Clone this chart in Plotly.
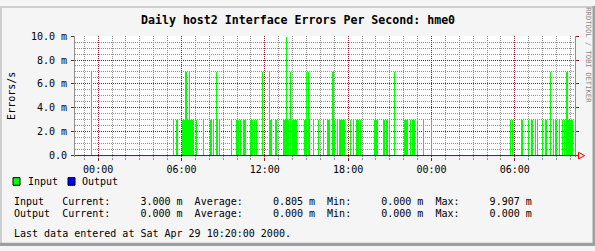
import plotly.graph_objects as go
import pandas as pd

# ---------------- data ----------------
title_text = "Daily host2 Interface Errors Per Second: hme0"
y_title = "Errors/s"
side_text = "RRDTOOL / TOBI OETIKER"

start_time = "2000-04-27 22:20:00"
end_time = "2000-04-29 10:20:00"
tick_start = "2000-04-28 00:00:00"

# minutes after start_time of every non-zero Input sample
input_minutes = [
    71.3,
    425.5, 438.5, 442.8, 464.4, 468.7, 473.0, 477.4, 481.7, 486.0, 490.3, 494.6,
    499.0, 503.3, 507.6, 511.9, 524.9, 555.1, 585.4, 589.7, 598.3, 611.3, 615.6, 624.2,
    676.1, 697.7, 702.0, 706.3, 715.0, 727.9, 732.2, 736.6, 758.2, 762.5, 766.8, 775.4, 784.1, 810.0,
    840.2, 844.6, 848.9, 866.2, 870.5, 900.7, 905.0, 909.4, 913.7, 918.0, 922.3, 931.0,
    939.6, 943.9, 948.2, 952.6, 956.9, 991.4, 995.8, 1000.1, 1008.7, 1013.0, 1030.3, 1051.9, 1073.5,
    1090.8, 1095.1, 1099.4, 1112.4, 1116.7, 1121.0, 1134.0, 1142.6, 1147.0, 1151.3, 1155.6, 1159.9, 1164.2,
    1190.2, 1203.1, 1216.1, 1220.4, 1224.7, 1233.4,
    1293.8, 1298.2, 1302.5, 1306.8, 1332.7, 1337.0, 1345.7, 1350.0, 1358.6, 1380.2,
    1423.4, 1427.8, 1432.1, 1436.4, 1449.4, 1458.0, 1462.3, 1466.6, 1479.6, 1505.5, 1540.1,
    1881.4, 1890.0, 1928.9, 1933.2, 1959.1, 1972.1, 1976.4, 1989.4, 1998.0, 2019.6,
    2032.6, 2036.9, 2054.2, 2067.1, 2075.8, 2080.1, 2093.0, 2106.0, 2114.6,
    2123.3, 2127.6, 2131.9, 2136.2, 2140.6, 2144.9, 2149.2,
]
# Input errors/s in milli units
input_values_m = [
    7,
    3, 3, 3, 3, 3, 3, 7, 7, 3, 3, 7,
    3, 3, 3, 3, 3, 3, 3, 3, 3, 7, 3, 3,
    3, 3, 3, 3, 3, 3, 3, 3, 3, 3, 3, 3, 3, 7,
    7, 3, 3, 3, 3, 3, 3, 3, 9.907, 3, 3, 7,
    3, 3, 3, 3, 3, 3, 3, 7, 7, 3, 3, 3, 3,
    3, 3, 3, 7, 7, 3, 3, 3, 3, 3, 3, 3, 3,
    3, 3, 3, 3, 3, 3,
    3, 3, 3, 3, 3, 3, 3, 3, 3, 7,
    3, 3, 3, 3, 3, 3, 3, 3, 3, 3, 3,
    3, 3, 3, 3, 3, 3, 3, 3, 3, 3,
    3, 3, 7, 3, 3, 3, 3, 3, 3,
    7, 7, 3, 3, 3, 3, 3,
]
assert len(input_minutes) == len(input_values_m)

output_minutes = [0, 2160]
output_values_m = [0.0, 0.0]

y_tick_values = [0, 2, 4, 6, 8, 10]
y_tick_labels = ["0.0", "2.0 m", "4.0 m", "6.0 m", "8.0 m", "10.0 m"]

series_names = ["Input", "Output"]
series_colors = ["#00FF00", "#0000FF"]
stat_current = [3.000, 0.000]
stat_average = [0.805, 0.000]
stat_min = [0.000, 0.000]
stat_max = [9.907, 0.000]
last_update = "Sat Apr 29 10:20:00 2000"

# ---------------- helpers ----------------
W, H = 595, 251
def px(x):
    return x / W
def py(y):
    return 1 - y / H

MONO = "DejaVu Sans Mono"
GRID = "#8F8F8F"
MGRID = "#821E1E"
NB = "\u00a0"

t0 = pd.Timestamp(start_time)
in_x = [t0 + pd.Timedelta(minutes=m) for m in input_minutes]
out_x = [t0 + pd.Timedelta(minutes=m) for m in output_minutes]

fig = go.Figure()
fig.add_trace(go.Bar(
    x=in_x, y=input_values_m, width=129600,
    marker=dict(color=series_colors[0], line=dict(width=0)),
    name=series_names[0], hoverinfo="skip",
))
fig.add_trace(go.Scatter(
    x=out_x, y=output_values_m, mode="lines",
    line=dict(color=series_colors[1], width=1),
    name=series_names[1], hoverinfo="skip",
))

fig.update_layout(
    width=W, height=H,
    margin=dict(l=0, r=0, t=0, b=0),
    paper_bgcolor="#F5F5F5", plot_bgcolor="#FFFFFF",
    bargap=0, showlegend=False,
    font=dict(family=MONO, size=10, color="#000000"),
    xaxis=dict(
        type="date", domain=[px(75), px(575)], range=[start_time, end_time],
        tickmode="linear", tick0=tick_start, dtick=6 * 3600 * 1000, tickformat="%H:%M",
        showgrid=True, gridcolor=MGRID, gridwidth=1, griddash="1px,1px",
        ticks="outside", ticklen=3, tickcolor=MGRID, tickwidth=1,
        showline=False, zeroline=False, fixedrange=True,
        tickfont=dict(family=MONO, size=10, color="#000000"),
        minor=dict(tickmode="linear", tick0=tick_start, dtick=3600 * 1000,
                   showgrid=True, gridcolor=GRID, gridwidth=1, griddash="1px,1px",
                   ticks="outside", ticklen=2, tickcolor=GRID),
    ),
    yaxis=dict(
        domain=[py(157.5), py(31.5)], range=[-0.08, 10.0],
        tickmode="array", tickvals=y_tick_values, ticktext=y_tick_labels,
        showgrid=True, gridcolor=MGRID, gridwidth=1, griddash="1px,1px",
        ticks="outside", ticklen=3, tickcolor=MGRID, tickwidth=1,
        ticklabelstandoff=2,
        showline=True, linecolor=GRID, linewidth=1, mirror="ticks",
        zeroline=False, fixedrange=True,
        tickfont=dict(family=MONO, size=10, color="#000000"),
        minor=dict(tickmode="linear", tick0=0, dtick=0.5,
                   showgrid=True, gridcolor=GRID, gridwidth=1, griddash="1px,1px"),
    ),
)

ann = []
ann.append(dict(text="<b>" + title_text.replace(" ", NB) + "</b>", x=px(298), y=py(14.5),
                xanchor="center", yanchor="middle",
                font=dict(family=MONO, size=11.6, color="#000000")))
ann.append(dict(text=y_title, x=px(12), y=py(94), textangle=-90,
                xanchor="center", yanchor="middle",
                font=dict(family=MONO, size=10, color="#000000")))
ann.append(dict(text=side_text.replace(" ", NB), x=px(588.5), y=py(51), textangle=90,
                xanchor="center", yanchor="middle",
                font=dict(family=MONO, size=7.2, color="#8A8A8A")))

# legend
legend_sq_x = [12.5, 67.5]
legend_txt_x = [27.3, 81.3]
shapes = []
for i, name in enumerate(series_names):
    x0 = legend_sq_x[i]
    shapes.append(dict(type="rect", xref="paper", yref="paper",
                       x0=px(x0 + 0.5), x1=px(x0 + 7.5), y0=py(179.5), y1=py(187.5),
                       fillcolor=series_colors[i], line=dict(color="#000000", width=1)))
    ann.append(dict(text=name, x=px(legend_txt_x[i]), y=py(183.5), xanchor="left", yanchor="middle",
                    font=dict(family=MONO, size=10, color="#000000")))

# statistics lines
row_y = [204.5, 217.5]
for i, name in enumerate(series_names):
    line = (f"{name:<8}Current:{stat_current[i]:>10.3f} m  Average:{stat_average[i]:>10.3f} m"
            f"  Min:{stat_min[i]:>10.3f} m  Max:{stat_max[i]:>10.3f} m")
    ann.append(dict(text=line.replace(" ", NB), x=px(13), y=py(row_y[i]),
                    xanchor="left", yanchor="middle",
                    font=dict(family=MONO, size=10, color="#000000")))
ann.append(dict(text=f"Last data entered at {last_update}.".replace(" ", NB), x=px(12.5), y=py(237.5),
                xanchor="left", yanchor="middle",
                font=dict(family=MONO, size=10, color="#000000")))

for a in ann:
    a.setdefault("xref", "paper")
    a.setdefault("yref", "paper")
    a.setdefault("showarrow", False)
    a.setdefault("borderpad", 0)

# 3D frame
shapes += [
    dict(type="rect", xref="paper", yref="paper", x0=0, x1=px(2), y0=0, y1=1,
         fillcolor="#CFCFCF", line=dict(width=0)),
    dict(type="rect", xref="paper", yref="paper", x0=0, x1=1, y0=py(2), y1=1,
         fillcolor="#CFCFCF", line=dict(width=0)),
    dict(type="rect", xref="paper", yref="paper", x0=px(592.5), x1=1, y0=0, y1=1,
         fillcolor="#9E9E9E", line=dict(width=0)),
    dict(type="rect", xref="paper", yref="paper", x0=0, x1=1, y0=0, y1=py(247.5),
         fillcolor="#9E9E9E", line=dict(width=0)),
]
# red arrow at end of x axis
ax_y = 156.5
shapes.append(dict(type="line", xref="paper", yref="paper", x0=px(575), x1=px(578), y0=py(ax_y), y1=py(ax_y),
                   line=dict(color="#FF0000", width=1)))
shapes.append(dict(type="path", xref="paper", yref="paper",
                   path=(f"M {px(578.5)} {py(ax_y - 3.5)} L {px(584.5)} {py(ax_y)} "
                         f"L {px(578.5)} {py(ax_y + 3.5)} Z"),
                   fillcolor="rgba(0,0,0,0)", line=dict(color="#FF0000", width=1)))

fig.update_layout(annotations=ann, shapes=shapes)

fig.write_html("out.html", config=dict(displayModeBar=False, staticPlot=False))
